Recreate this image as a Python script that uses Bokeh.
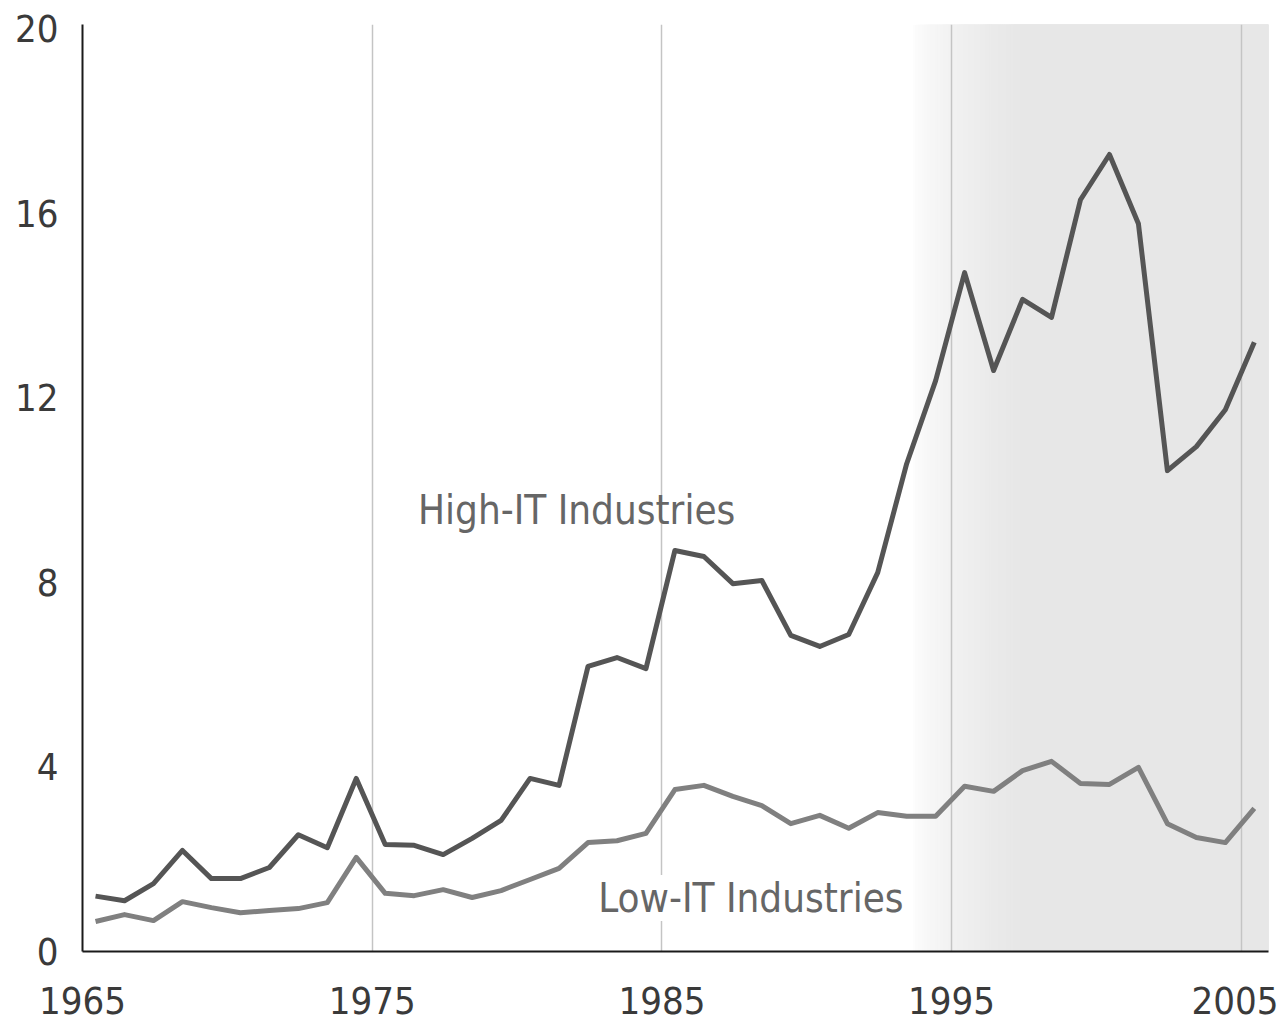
from bokeh.plotting import figure
from bokeh.models import Range1d, FixedTicker, Label
from bokeh.embed import file_html
from bokeh.resources import INLINE

# ---- data ----
years = list(range(1965, 2006))
high_it = [1.20, 1.10, 1.47, 2.19, 1.58, 1.58, 1.82, 2.53, 2.25, 3.75,
           2.32, 2.30, 2.10, 2.45, 2.84, 3.75, 3.60, 6.18, 6.37, 6.13,
           8.69, 8.56, 7.97, 8.04, 6.85, 6.61, 6.87, 8.21, 10.57, 12.37,
           14.71, 12.59, 14.13, 13.74, 16.29, 17.27, 15.77, 10.42, 10.94, 11.74, 13.20]
low_it = [0.65, 0.80, 0.67, 1.08, 0.95, 0.84, 0.89, 0.93, 1.06, 2.04,
          1.26, 1.21, 1.34, 1.17, 1.32, 1.56, 1.80, 2.36, 2.40, 2.56,
          3.51, 3.60, 3.36, 3.16, 2.77, 2.95, 2.67, 3.01, 2.93, 2.93,
          3.58, 3.47, 3.92, 4.12, 3.64, 3.62, 3.99, 2.77, 2.47, 2.36, 3.10]
x_ticks = [1965, 1975, 1985, 1995, 2005]
y_ticks = [0, 4, 8, 12, 16, 20]
shade_start = 1993.6   # start of shaded period (soft edge)
shade_full = 1997.2

FONT = "'DejaVu Sans Condensed', 'Liberation Sans Narrow', sans-serif"

X0, X1 = 1965.0, 2005.94
Y0, Y1 = 0.0, 20.087

p = figure(frame_width=1186, frame_height=927,
           x_range=Range1d(X0, X1), y_range=Range1d(Y0, Y1),
           output_backend="svg", toolbar_location=None,
           min_border_left=82, min_border_right=10,
           min_border_top=24, min_border_bottom=73,
           background_fill_color="white", border_fill_color="white")
p.outline_line_color = None

# shaded region with a soft gradient edge: overlapping strips, each to the right edge
n = 48
lefts, cols = [], []
for i in range(n + 1):
    a = shade_start + (shade_full - shade_start) * i / n
    t = (i / n) ** 0.6
    g = int(round(255 - (255 - 231) * t))
    lefts.append(a); cols.append("#%02x%02x%02x" % (g, g, g))
p.quad(left=lefts, right=[X1] * len(lefts), bottom=Y0, top=Y1, fill_color=cols,
       line_color=None, level="image")

# lines
xs = [y + 0.45 for y in years]
p.line(xs, high_it, line_color="#555555", line_width=5, line_join="round")
p.line(xs, low_it, line_color="#808080", line_width=5, line_join="round")

# grid
p.ygrid.grid_line_color = None
p.xgrid.ticker = FixedTicker(ticks=x_ticks[1:])
p.xgrid.grid_line_color = "#c4c4c4"
p.xgrid.grid_line_width = 1.5

# axes
for ax in (p.xaxis[0], p.yaxis[0]):
    ax.axis_line_color = "#1a1a1a"
    ax.axis_line_width = 2
    ax.major_tick_line_color = None
    ax.minor_tick_line_color = None
    ax.major_tick_in = 0
    ax.major_tick_out = 0
    ax.major_label_text_font = FONT
    ax.major_label_text_font_size = "38px"
    ax.major_label_text_color = "#3a3a3a"
p.xaxis.ticker = FixedTicker(ticks=x_ticks)
p.yaxis.ticker = FixedTicker(ticks=y_ticks)
p.xaxis.major_label_standoff = 35
p.yaxis.major_label_standoff = 24

# series labels
p.add_layout(Label(x=1976.58, y=9.56, text="High-IT Industries",
                   text_font=FONT, text_font_size="40px",
                   text_color="#666666", text_baseline="alphabetic"))
p.add_layout(Label(x=1982.80, y=1.16, text="Low-IT Industries",
                   text_font=FONT, text_font_size="40px",
                   text_color="#666666", text_baseline="alphabetic",
                   background_fill_color="white"))

open("out.html", "w").write(file_html(p, INLINE))
